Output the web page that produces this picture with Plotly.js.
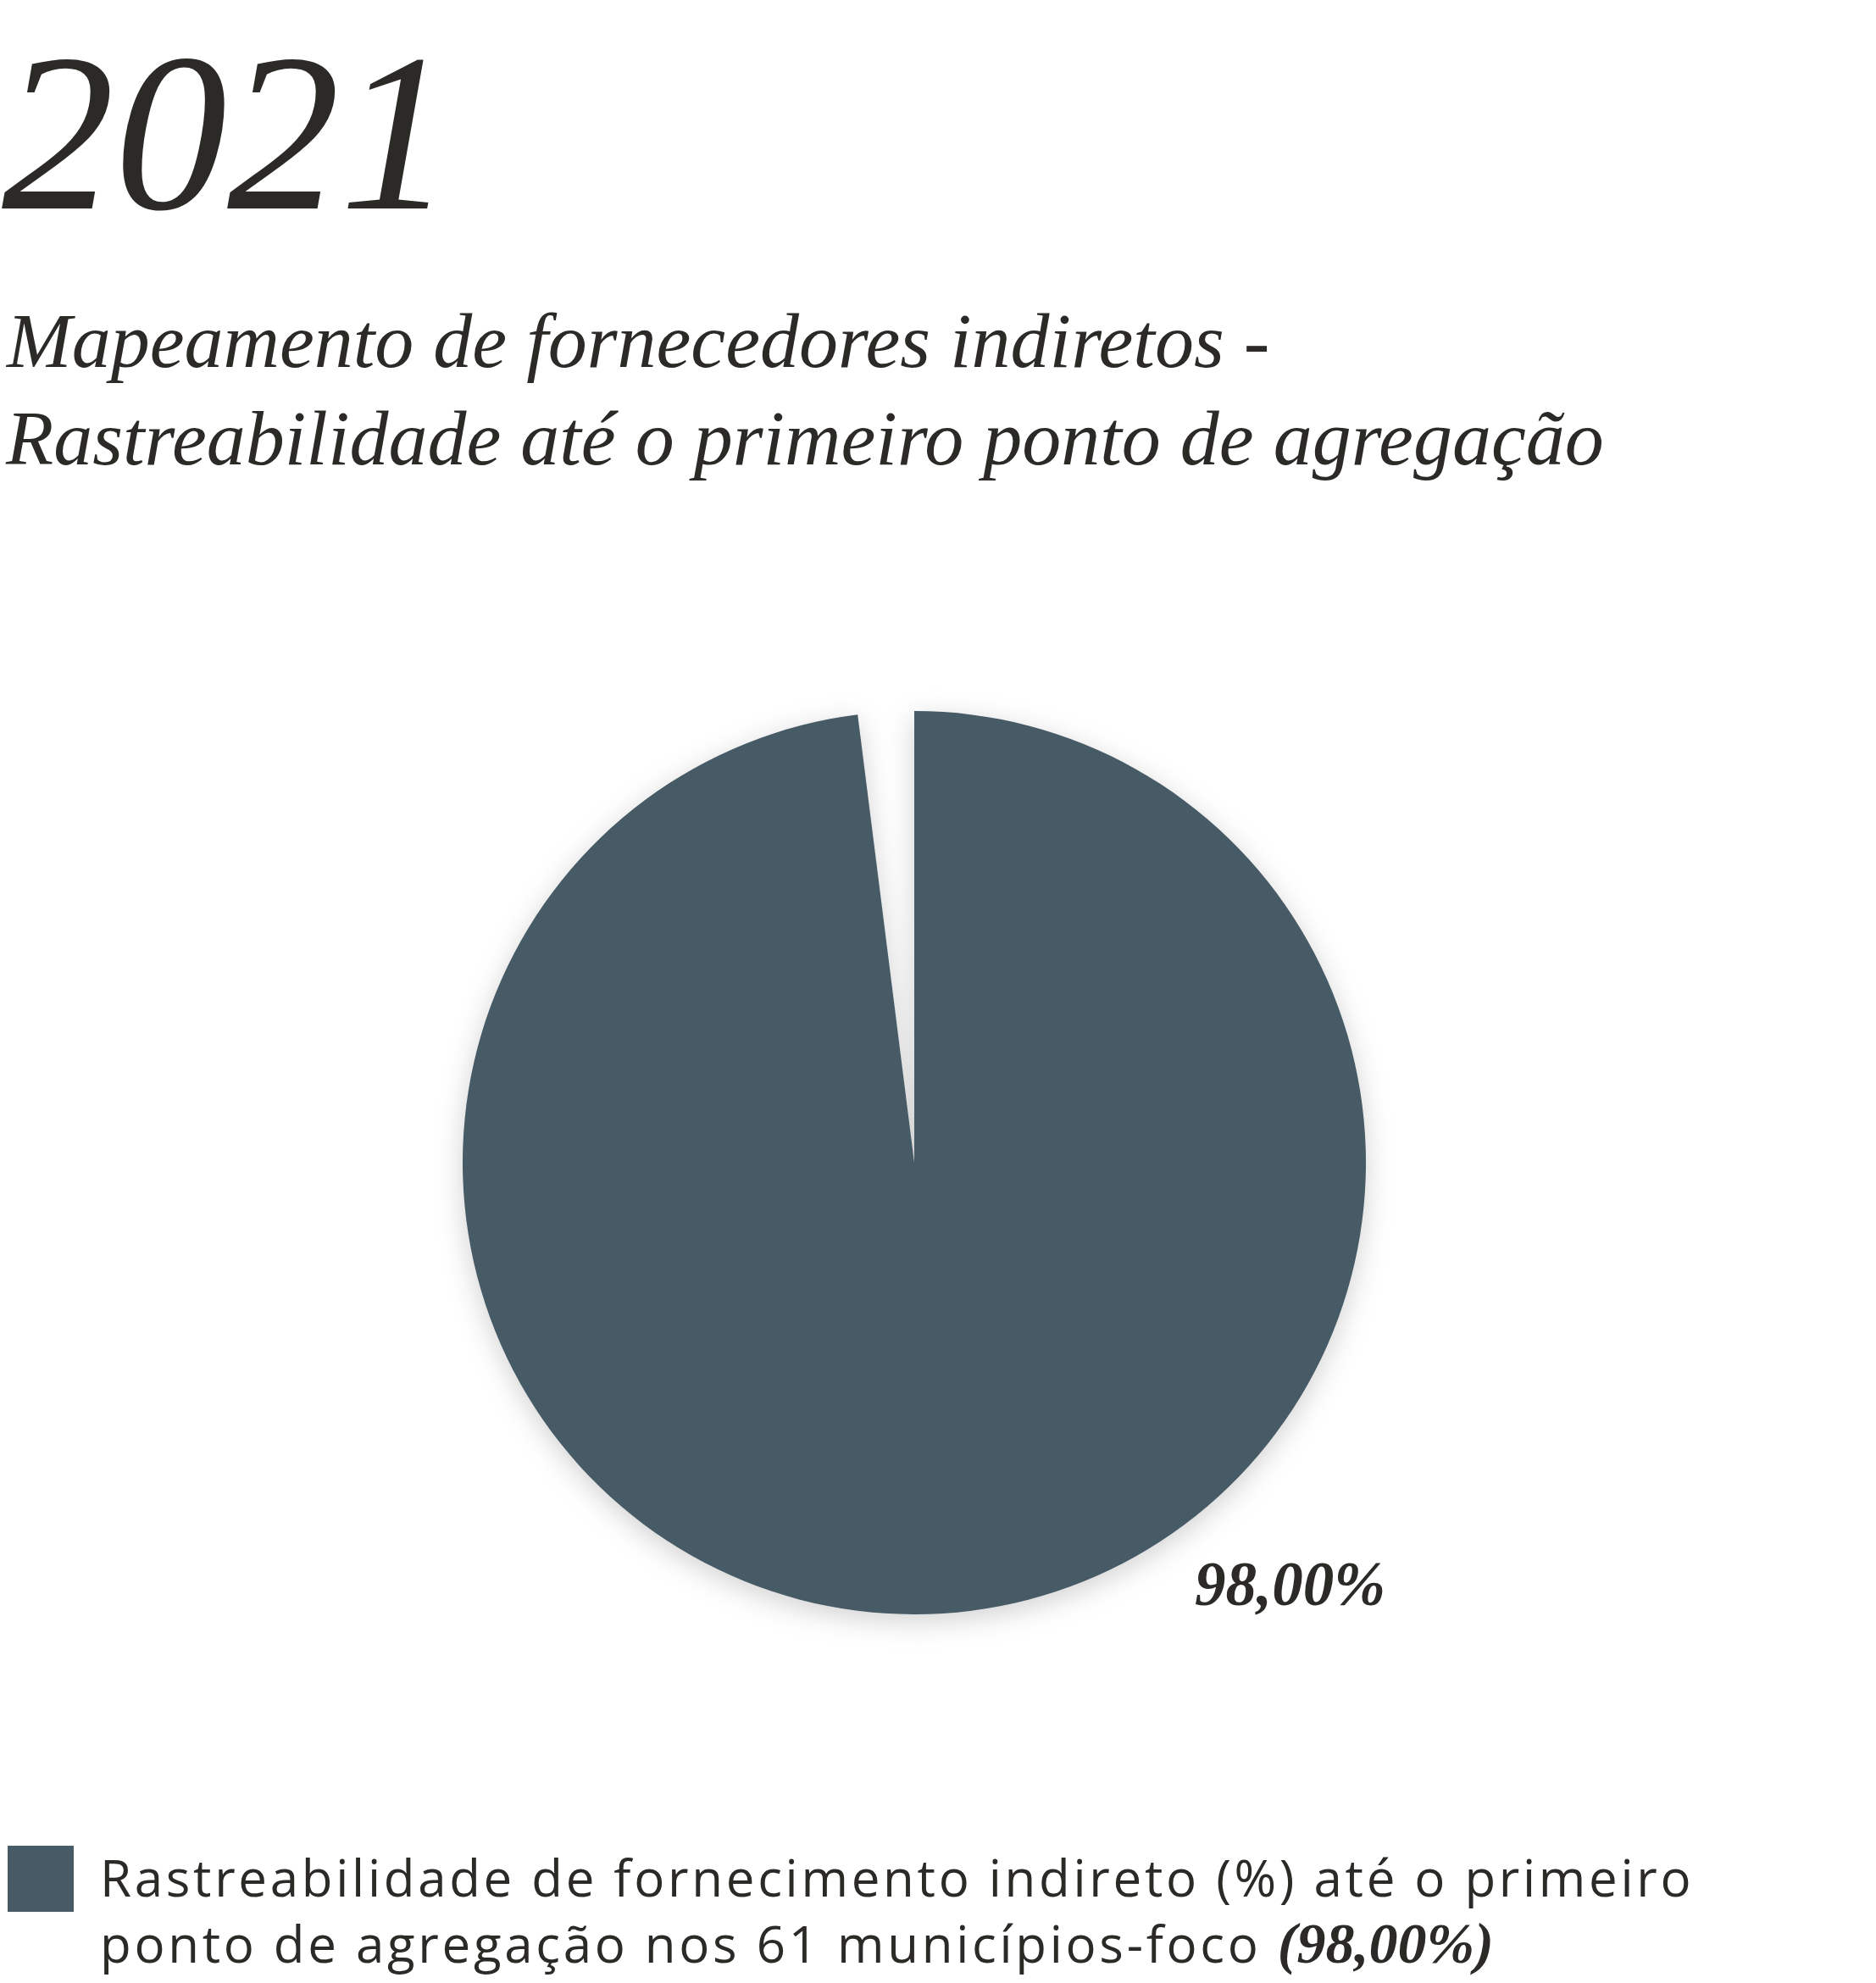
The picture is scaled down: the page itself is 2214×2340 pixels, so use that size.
<!DOCTYPE html>
<html>
<head>
<meta charset="utf-8">
<script src="https://cdn.plot.ly/plotly-3.0.1.min.js"></script>
<style>
  html, body { margin: 0; padding: 0; background: #ffffff; }
  #chart { width: 2214px; height: 2340px; }
  .pielayer .trace { filter: drop-shadow(0px 8px 16px rgba(0,0,0,0.18)); }
  .annotation[data-index="4"] text { letter-spacing: 3.7px; }
</style>
</head>
<body>
<div id="chart"></div>
<script>
// ---- data ----
const year = "2021";
const subtitleLines = ["Mapeamento de fornecedores indiretos -", "Rastreabilidade até o primeiro ponto de agregação"];
const sliceLabels = ["Rastreabilidade até o primeiro ponto de agregação", "Não rastreado"];
const sliceValues = [98.00, 2.00];
const sliceText = "98,00%";
const legendLine1 = "Rastreabilidade de fornecimento indireto (%) até o primeiro";
const legendLine2 = "ponto de agregação nos 61 municípios-foco ";
const legendValue = "(98,00%)";

// ---- layout helpers ----
const W = 2214, H = 2340;
const px = v => v / W;
const py = v => 1 - v / H;
const ink = "#2b2a26";
const slate = "#475b67";
const serif = "Liberation Serif, DejaVu Serif, serif";
const sans = "Open Sans, Lato, sans-serif";

const cx = 1079, cy = 1372, r = 533;

const trace = {
  type: "pie",
  labels: sliceLabels,
  values: sliceValues,
  sort: false,
  direction: "clockwise",
  rotation: 0,
  textinfo: "none",
  hoverinfo: "label+percent",
  marker: { colors: [slate, "rgba(0,0,0,0)"], line: { width: 0 } },
  domain: { x: [px(cx - r), px(cx + r)], y: [py(cy + r), py(cy - r)] },
  showlegend: false
};

const annotations = [
  { text: year, x: px(0), y: py(157), xanchor: "left", yanchor: "middle",
    font: { family: serif, size: 266, color: ink, style: "italic" } },
  { text: "<i>" + subtitleLines[0] + "</i>", x: px(4), y: py(402), xanchor: "left", yanchor: "middle",
    font: { family: serif, size: 92, color: ink } },
  { text: "<i>" + subtitleLines[1] + "</i>", x: px(4), y: py(517), xanchor: "left", yanchor: "middle",
    font: { family: serif, size: 92, color: ink } },
  { text: "<b><i>" + sliceText + "</i></b>", x: px(1522), y: py(1869), xanchor: "center", yanchor: "middle",
    font: { family: serif, size: 73, color: ink } },
  { text: legendLine1 + "<br>" + legendLine2 +
      '<span style="font-family:Liberation Serif, serif;font-size:68px;letter-spacing:0px"><b><i>' + legendValue + '</i></b></span>',
    x: px(116), y: py(2254), xanchor: "left", yanchor: "middle", align: "left",
    font: { family: sans, size: 60, color: ink } }
].map(a => Object.assign({ xref: "paper", yref: "paper", showarrow: false }, a));

const shapes = [
  { type: "rect", xref: "paper", yref: "paper",
    x0: px(9), x1: px(87), y0: py(2256), y1: py(2178),
    fillcolor: slate, line: { width: 0 } }
];

const layout = {
  width: W, height: H,
  margin: { l: 0, r: 0, t: 0, b: 0 },
  paper_bgcolor: "#ffffff",
  plot_bgcolor: "#ffffff",
  showlegend: false,
  annotations: annotations,
  shapes: shapes
};

Plotly.newPlot("chart", [trace], layout, { displayModeBar: false, staticPlot: true });
</script>
</body>
</html>
